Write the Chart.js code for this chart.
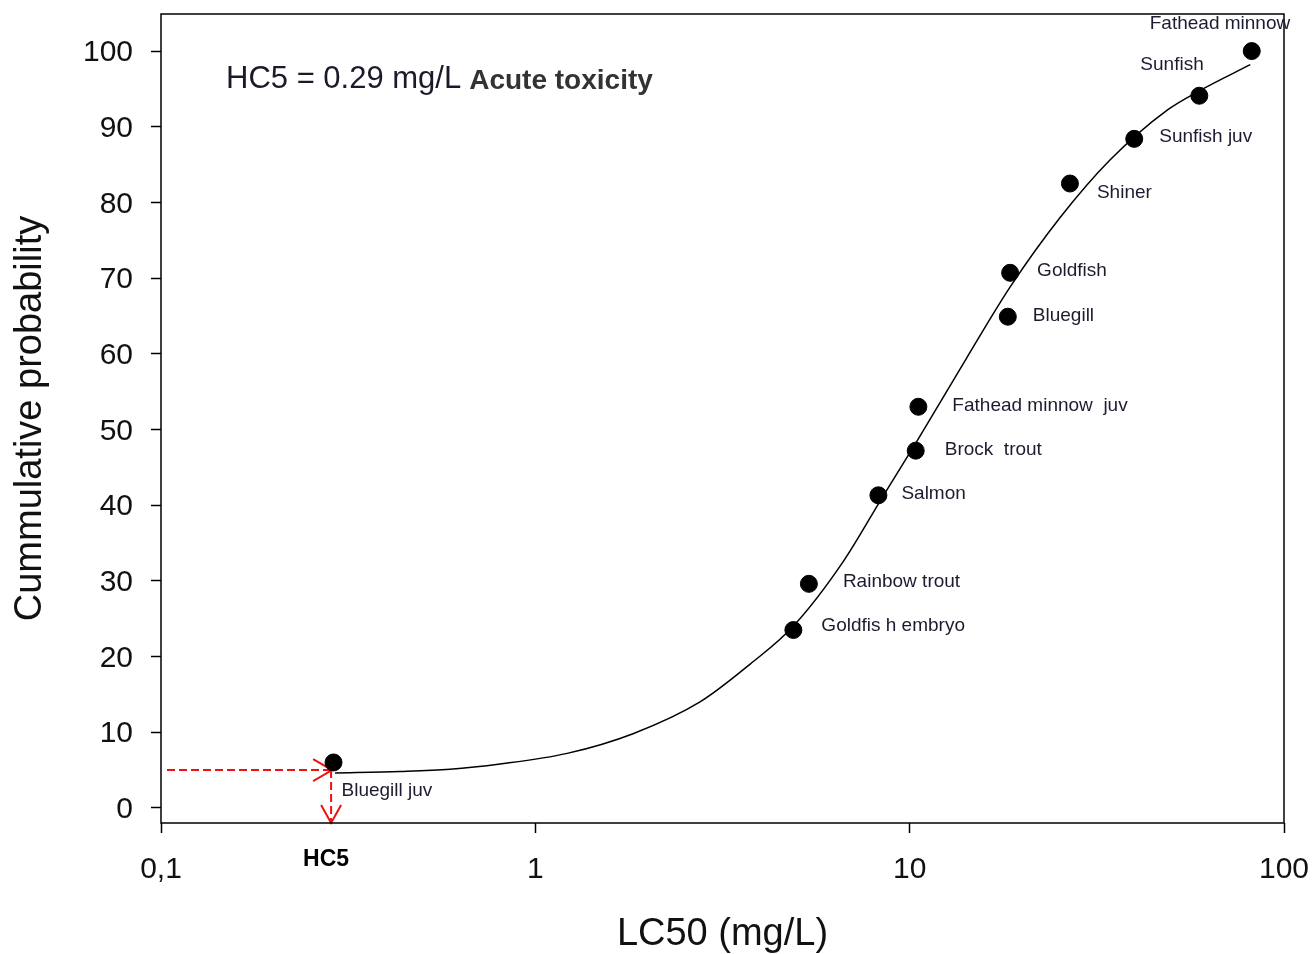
<!DOCTYPE html>
<html><head><meta charset="utf-8">
<script src="https://cdn.jsdelivr.net/npm/chart.js@4/dist/chart.umd.min.js"></script>
<style>html,body{margin:0;padding:0;background:#fff}#wrap{width:1312px;height:954px;position:relative}canvas{display:block}</style>
</head><body><div id="wrap"><canvas id="c" width="1312" height="954"></canvas></div>
<script>
// ---- data ----
const species = ["Bluegill juv","Goldfis h embryo","Rainbow trout","Salmon","Brock  trout","Fathead minnow  juv","Bluegill","Goldfish","Shiner","Sunfish juv","Sunfish","Fathead minnow"];
const lc50 = [0.289, 4.89, 5.38, 8.25, 10.38, 10.55, 18.29, 18.55, 26.8, 39.8, 59.4, 82.0];
const probability = [6.0, 23.5, 29.6, 41.3, 47.2, 53.0, 64.9, 70.7, 82.5, 88.4, 94.1, 100.0];
const fitLC50 = [0.2917, 0.4355, 0.5916, 0.805, 1.216, 1.824, 2.754, 3.75, 4.887, 6.637, 8.492, 10.47, 14.22, 18.54, 25.23, 34.28, 48.75, 59.7, 81.28];
const fitProbability = [4.6, 4.8, 5.1, 5.8, 7.2, 9.8, 14.0, 19.0, 24.0, 32.5, 41.2, 48.5, 59.5, 68.8, 78.0, 85.6, 92.2, 94.8, 98.2];
const xTickValues = [0.1, 1, 10, 100];
const xTickLabels = ["0,1", "1", "10", "100"];
const yTickValues = [0, 10, 20, 30, 40, 50, 60, 70, 80, 90, 100];
const hc5Value = 0.29;
const hc5Percent = 5;
const hc5Text = "HC5 = 0.29 mg/L";
const subtitleText = "Acute toxicity";
const hc5AxisLabel = "HC5";

// ---- label placement (style, not data) ----
const labelOffsets = [[8,28],[28,-4],[34,-2],[23,-2],[29,-1],[34,-1],[25,-1],[27,-2],[27,9],[25,-2],[-59,-31],[-102,-27]];

const FONT = "'Liberation Sans', Arial, sans-serif";

const overlay = {
  id: 'overlay',
  beforeDatasetsDraw(chart) {
    const {ctx, chartArea: a, scales: {x, y}} = chart;
    const px = x.getPixelForValue(hc5Value);
    const py = y.getPixelForValue(hc5Percent);
    ctx.save();
    ctx.strokeStyle = '#f01010';
    ctx.lineWidth = 2;
    ctx.setLineDash([8, 4]);
    ctx.beginPath();
    ctx.moveTo(a.left + 6, py); ctx.lineTo(px - 2, py);
    ctx.moveTo(px - 3, py); ctx.lineTo(px - 3, a.bottom);
    ctx.stroke();
    ctx.setLineDash([]);
    ctx.beginPath();
    ctx.moveTo(px - 21, py - 11); ctx.lineTo(px - 2, py); ctx.lineTo(px - 21, py + 11);
    ctx.moveTo(px - 13, a.bottom - 18); ctx.lineTo(px - 3, a.bottom); ctx.lineTo(px + 7, a.bottom - 18);
    ctx.stroke();
    ctx.restore();
  },
  afterDatasetsDraw(chart) {
    const {ctx, chartArea: a, scales: {x, y}} = chart;
    ctx.save();
    ctx.strokeStyle = '#000';
    ctx.lineWidth = 1.5;
    ctx.strokeRect(a.left, a.top, a.right - a.left, a.bottom - a.top);
    ctx.font = "19px " + FONT;
    ctx.fillStyle = '#1c1c30';
    ctx.textBaseline = 'middle';
    ctx.textAlign = 'left';
    species.forEach((s, i) => {
      const px = x.getPixelForValue(lc50[i]);
      const py = y.getPixelForValue(probability[i]);
      ctx.fillText(s, px + labelOffsets[i][0], py + labelOffsets[i][1]);
    });
    ctx.font = "31px " + FONT;
    ctx.fillStyle = '#1a1a2a';
    ctx.fillText(hc5Text, a.left + 65, a.top + 65);
    const w = ctx.measureText(hc5Text).width;
    ctx.font = "bold 28px " + FONT;
    ctx.fillStyle = '#333';
    ctx.fillText(subtitleText, a.left + 65 + w + 8, a.top + 67);
    ctx.font = "bold 23px " + FONT;
    ctx.fillStyle = '#000';
    ctx.textAlign = 'center';
    ctx.fillText(hc5AxisLabel, x.getPixelForValue(hc5Value) - 8, a.bottom + 37);
    ctx.restore();
  }
};

const fixAxis = (size, prop) => (s) => {
  s[prop] = size;
  s.paddingTop = 0; s.paddingBottom = 0; s.paddingLeft = 0; s.paddingRight = 0;
};

new Chart(document.getElementById('c'), {
  type: 'scatter',
  data: {
    datasets: [
      {
        type: 'line',
        data: fitLC50.map((v, i) => ({x: v, y: fitProbability[i]})),
        borderColor: '#000',
        borderWidth: 1.5,
        pointRadius: 0,
        cubicInterpolationMode: 'monotone',
        fill: false
      },
      {
        data: lc50.map((v, i) => ({x: v, y: probability[i]})),
        backgroundColor: '#000',
        borderColor: '#000',
        pointRadius: 8.5,
        pointHoverRadius: 8.5
      }
    ]
  },
  options: {
    responsive: false,
    animation: false,
    devicePixelRatio: 1,
    layout: {padding: {top: 14, right: 28, left: 0, bottom: 0}},
    plugins: {legend: {display: false}, tooltip: {enabled: false}},
    scales: {
      x: {
        type: 'logarithmic',
        min: 0.1, max: 100,
        afterBuildTicks: (s) => { s.ticks = xTickValues.map(v => ({value: v})); },
        afterFit: fixAxis(131, 'height'),
        border: {display: false},
        grid: {drawOnChartArea: false, drawTicks: true, tickLength: 10, tickColor: '#000', tickWidth: 1.5, color: '#000'},
        ticks: {
          color: '#111', padding: 19, maxRotation: 0, autoSkip: false,
          font: {family: FONT, size: 30},
          callback: (v) => { const i = xTickValues.indexOf(v); return i >= 0 ? xTickLabels[i] : ''; }
        },
        title: {display: true, text: 'LC50 (mg/L)', color: '#111', font: {family: FONT, size: 38, lineHeight: 1}, padding: {bottom: 0}}
      },
      y: {
        min: -2, max: 104.9,
        afterBuildTicks: (s) => { s.ticks = yTickValues.map(v => ({value: v})); },
        afterFit: fixAxis(161, 'width'),
        border: {display: false},
        grid: {drawOnChartArea: false, drawTicks: true, tickLength: 10, tickColor: '#000', tickWidth: 1.5, color: '#000'},
        ticks: {color: '#111', padding: 18, labelOffset: 2, autoSkip: false, font: {family: FONT, size: 30}},
        title: {display: true, text: 'Cummulative probability', color: '#111', font: {family: FONT, size: 38, lineHeight: 1.2}, padding: {top: 8}}
      }
    }
  },
  plugins: [overlay]
});
</script>
</body></html>
